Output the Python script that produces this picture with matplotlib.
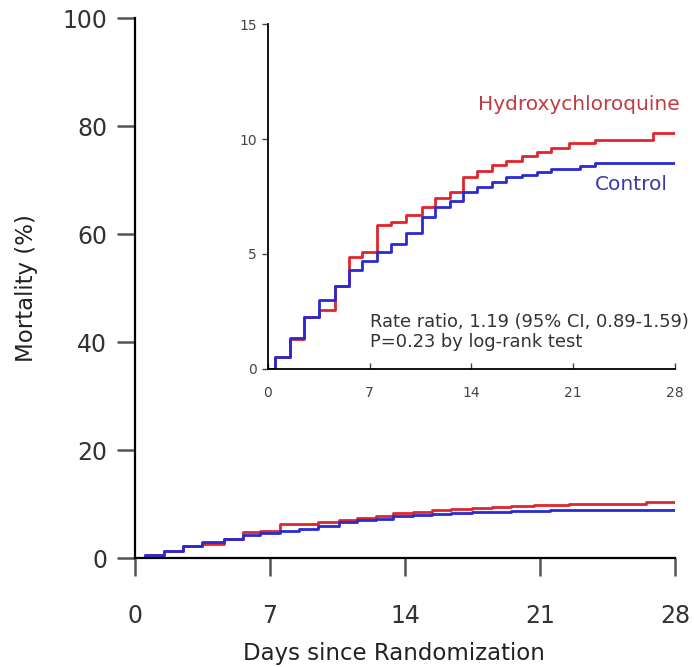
import matplotlib
matplotlib.use("Agg")
import matplotlib.pyplot as plt

plt.rcParams['font.family'] = ['DejaVu Sans']

# Kaplan-Meier style cumulative mortality (%)
ctrl_days = [0, 0.5, 1.5, 2.5, 3.5, 4.6, 5.6, 6.5, 7.5, 8.5, 9.5, 10.6, 11.5,
             12.5, 13.4, 14.4, 15.4, 16.4, 17.5, 18.5, 19.5, 21.5, 22.5, 28]
ctrl_mort = [0, 0.5, 1.35, 2.26, 3.0, 3.6, 4.3, 4.7, 5.09, 5.45, 5.9, 6.6, 7.05,
             7.3, 7.7, 7.9, 8.13, 8.33, 8.43, 8.55, 8.68, 8.83, 8.96, 8.96]

hcq_days = [0, 0.5, 1.5, 2.5, 3.5, 4.6, 5.6, 6.5, 7.5, 8.5, 9.5, 10.6, 11.5,
            12.5, 13.4, 14.4, 15.4, 16.4, 17.5, 18.5, 19.5, 20.7, 22.5, 26.5, 28]
hcq_mort = [0, 0.5, 1.3, 2.26, 2.56, 3.6, 4.87, 5.09, 6.26, 6.39, 6.7, 7.04, 7.43,
            7.7, 8.35, 8.6, 8.85, 9.05, 9.25, 9.45, 9.62, 9.83, 9.96, 10.28, 10.28]

day_ticks = [0, 7, 14, 21, 28]
main_yticks = [0, 20, 40, 60, 80, 100]
inset_yticks = [0, 5, 10, 15]

red = '#e0252c'
blue = '#2a2ad2'

fig = plt.figure(figsize=(6.94, 6.67), dpi=100)

# main axes
ax = fig.add_axes([0.1945, 0.1634, 0.778, 0.8096])
ax.plot(hcq_days, hcq_mort, drawstyle='steps-post', color=red, lw=2)
ax.plot(ctrl_days, ctrl_mort, drawstyle='steps-post', color=blue, lw=2)
ax.set_xlim(0, 28)
ax.set_ylim(0, 100)
ax.set_xticks(day_ticks)
ax.set_yticks(main_yticks)
for s in ['top', 'right']:
    ax.spines[s].set_visible(False)
for s in ['left', 'bottom']:
    ax.spines[s].set_linewidth(1.6)
ax.tick_params(direction='out', length=13, width=1.8, labelsize=17,
               colors='#333333', color='#555555')
ax.tick_params(axis='x', pad=20)
ax.tick_params(axis='y', pad=7)
ax.set_xlabel('Days since Randomization', fontsize=16.5, color='#222222')
ax.set_ylabel('Mortality (%)', fontsize=16.5, color='#222222')
ax.xaxis.set_label_coords(0.48, -0.155)
ax.yaxis.set_label_coords(-0.18, 0.5)

# inset axes
ins = fig.add_axes([0.386, 0.4468, 0.5865, 0.5172])
ins.plot(hcq_days, hcq_mort, drawstyle='steps-post', color=red, lw=2)
ins.plot(ctrl_days, ctrl_mort, drawstyle='steps-post', color=blue, lw=2)
ins.set_xlim(0, 28)
ins.set_ylim(0, 15)
ins.set_xticks(day_ticks)
ins.set_yticks(inset_yticks)
for s in ['top', 'right']:
    ins.spines[s].set_visible(False)
for s in ['left', 'bottom']:
    ins.spines[s].set_linewidth(1.3)
ins.tick_params(axis='x', direction='in', length=4, width=1, labelsize=10,
                colors='#444444', pad=12)
ins.tick_params(axis='y', direction='out', length=4, width=1, labelsize=10,
                colors='#444444', pad=4)
ins.patch.set_alpha(0)

ins.text(28.35, 11.5, 'Hydroxychloroquine', color='#c23a42', fontsize=14.5,
         ha='right', va='center')
ins.text(27.5, 8.0, 'Control', color='#3a3aa6', fontsize=14.5,
         ha='right', va='center')
ins.text(7.0, 2.05, 'Rate ratio, 1.19 (95% CI, 0.89-1.59)', fontsize=12.9,
         color='#333333', va='center')
ins.text(7.0, 1.17, 'P=0.23 by log-rank test', fontsize=12.9,
         color='#333333', va='center')

fig.savefig('out.png', dpi=100)
